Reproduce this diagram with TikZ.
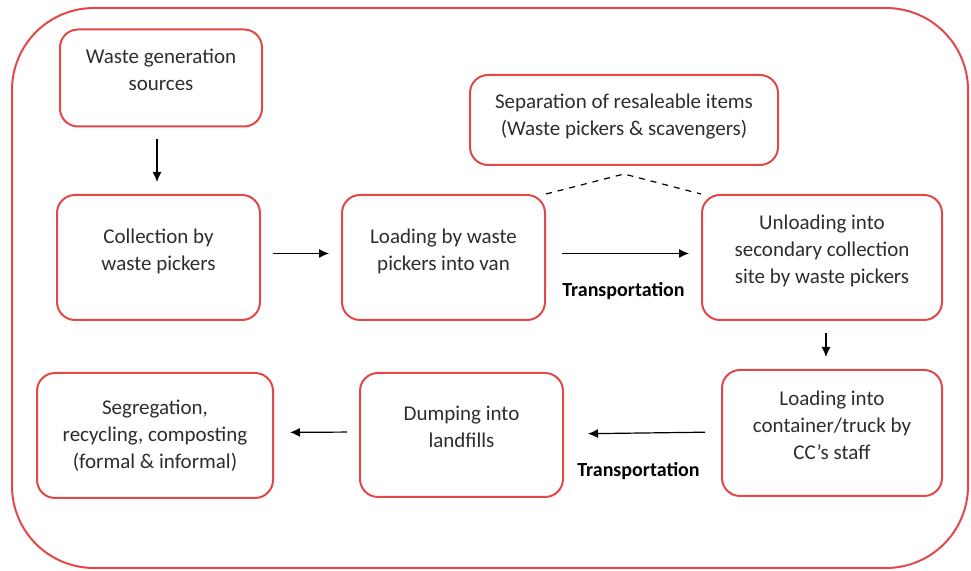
\documentclass[tikz,border=0pt]{standalone}
\usepackage{fontspec}
\setmainfont{Carlito}
\usetikzlibrary{arrows.meta,calc}
\definecolor{boxred}{RGB}{226,72,72}
\definecolor{txtgray}{RGB}{45,45,45}
\begin{document}
\begin{tikzpicture}[x=0.5pt,y=-0.5pt,line join=round,>={Latex[length=5pt,width=4.5pt]},
  box/.style={draw=boxred,line width=1pt,rounded corners=9pt,align=center,text=txtgray,
    font=\fontsize{10.5}{13.5}\selectfont,inner sep=0pt,text depth=8pt},
  flow/.style={->,line width=0.6pt,shorten >=6pt,shorten <=6pt},
  trans/.style={font=\fontsize{10}{12}\selectfont\bfseries,text=black}]
\useasboundingbox (0,0) rectangle (971,571);
\draw[boxred,line width=1pt,rounded corners=41pt](12,8) rectangle (968,568);

\node[box,minimum width=101pt,minimum height=48.5pt] (gen) at (161,78) {Waste generation\\sources};
\node[box,minimum width=101.5pt,minimum height=62.5pt] (coll) at (158.5,257.5) {Collection by\\waste pickers};
\node[box,minimum width=101.5pt,minimum height=62.5pt] (load) at (443.5,257.5) {Loading by waste\\pickers into van};
\node[box,minimum width=154pt,minimum height=45pt,text depth=5pt] (sep) at (624,120) {Separation of resaleable items\\(Waste pickers \& scavengers)};
\node[box,minimum width=120pt,minimum height=62.5pt] (unl) at (822,257.5) {Unloading into\\secondary collection\\site by waste pickers};
\node[box,minimum width=110pt,minimum height=63pt] (truck) at (832,433) {Loading into\\container/truck by\\CC's staff};
\node[box,minimum width=101.5pt,minimum height=62pt] (dump) at (461.5,435) {Dumping into\\landfills};
\node[box,minimum width=118pt,minimum height=62.5pt,text depth=1pt] (seg) at (155,435.5) {Segregation,\\recycling, composting\\(formal \& informal)};

\coordinate (peak) at ([yshift=-4pt]sep.south);

\draw[flow] ([xshift=-2pt]gen.south) -- ([xshift=-2pt]gen.south |- coll.north);
\draw[flow] ([yshift=2pt]coll.east) -- ([yshift=2pt]load.west);
\draw[flow,shorten <=8pt] ([yshift=2pt]load.east) -- ([yshift=2pt]unl.west)
  node[trans,midway,below=11pt] {Transportation};
\draw[flow] ([xshift=2pt]unl.south) -- ([xshift=2pt]unl.south |- truck.north);
\draw[flow,shorten >=12pt,shorten <=8pt] ([yshift=0.5pt]truck.west) -- ([yshift=0.5pt]dump.east)
  node[trans,midway,below=11pt,xshift=-2pt] {Transportation};
\draw[flow,shorten >=8pt] ([yshift=1.5pt]dump.west) -- ([yshift=1.5pt]seg.east);
\draw[dashed,line width=0.6pt] (load.north east) -- (peak) -- (unl.north west);
\end{tikzpicture}
\end{document}
